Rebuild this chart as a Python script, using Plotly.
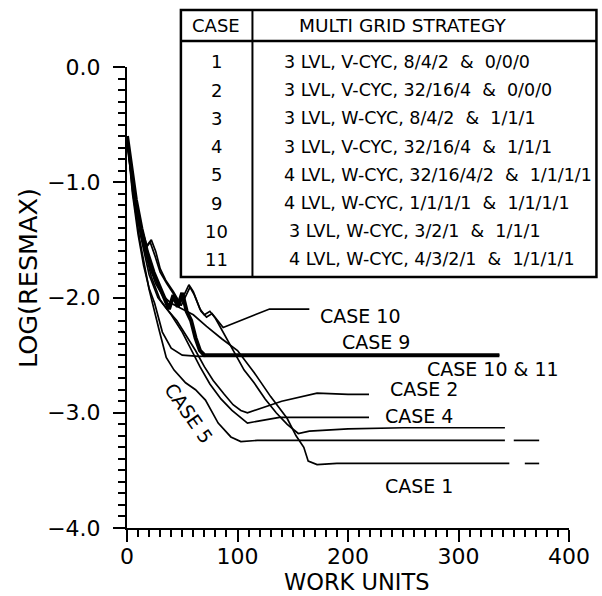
import plotly.graph_objects as go

# ---------------- data (work units vs log10 of max residual) ----------------
case1_x = [0, 4, 9, 14, 20, 26, 32, 40, 50, 60, 72, 86, 100, 115, 130, 145, 153, 157, 160, 164, 172, 190, 250, 300, 346]
case1_y = [-0.6, -0.95, -1.25, -1.5, -1.72, -1.88, -1.98, -2.05, -2.1, -2.15, -2.25, -2.36, -2.46, -2.65, -2.86, -3.05, -3.2, -3.26, -3.3, -3.42, -3.45, -3.44, -3.44, -3.44, -3.44]
case1_ext_x = [360, 373]
case1_ext_y = [-3.44, -3.44]

case2_x = [0, 6, 12, 20, 28, 36, 45, 55, 62, 70, 78, 88, 96, 103, 109, 140, 172, 200, 219]
case2_y = [-0.6, -1.1, -1.45, -1.8, -2.0, -2.1, -2.2, -2.35, -2.46, -2.6, -2.72, -2.84, -2.93, -2.98, -3.0, -2.9, -2.83, -2.84, -2.84]

case3_x = [0, 5, 10, 18, 22, 26, 30, 35, 42, 48, 53, 56, 60, 66, 70, 75, 80, 90, 97, 106, 115, 125, 135, 145, 155, 165, 200, 250, 342]
case3_y = [-0.6, -0.95, -1.3, -1.55, -1.5, -1.6, -1.75, -1.85, -1.95, -2.05, -1.95, -1.89, -1.95, -2.1, -2.15, -2.12, -2.18, -2.35, -2.48, -2.63, -2.74, -2.88, -3.0, -3.1, -3.18, -3.16, -3.14, -3.13, -3.13]

case4_x = [0, 7, 14, 22, 30, 40, 50, 58, 66, 75, 85, 95, 105, 109, 120, 138, 180, 219]
case4_y = [-0.6, -1.15, -1.5, -1.82, -2.02, -2.15, -2.3, -2.45, -2.6, -2.75, -2.88, -2.98, -3.06, -3.09, -3.07, -3.04, -3.04, -3.04]

case5_x = [0, 5, 11.5, 20, 29, 35.5, 42.6, 53, 62, 71, 82.5, 94, 103, 118, 200, 300, 342]
case5_y = [-0.6, -1.07, -1.5, -1.93, -2.28, -2.52, -2.63, -2.74, -2.8, -2.89, -3.09, -3.21, -3.25, -3.24, -3.24, -3.24, -3.24]
case5_ext_x = [350, 373]
case5_ext_y = [-3.24, -3.24]

case9_x = [0, 4, 8, 13, 18, 24, 30, 35, 38, 42, 46, 50, 54, 58, 62, 66, 70, 100, 200, 337]
case9_y = [-0.6, -0.9, -1.15, -1.4, -1.6, -1.78, -1.92, -2.02, -2.1, -1.98, -2.08, -1.96, -2.12, -2.2, -2.35, -2.46, -2.5, -2.5, -2.5, -2.5]

case10_x = [0, 5, 10, 17, 21, 25, 30, 36, 43, 49, 54, 57, 61, 67, 72, 77, 82, 87, 108, 129, 165]
case10_y = [-0.6, -0.97, -1.33, -1.57, -1.52, -1.63, -1.78, -1.88, -1.98, -2.07, -1.97, -1.91, -1.98, -2.12, -2.17, -2.14, -2.2, -2.26, -2.18, -2.1, -2.1]

case11_x = [0, 5, 10, 15, 20, 25, 32, 40, 50, 65, 100, 200, 337]
case11_y = [-0.6, -1.1, -1.45, -1.72, -1.92, -2.05, -2.3, -2.44, -2.5, -2.51, -2.5, -2.5, -2.5]

# table contents
table_cases = ["1", "2", "3", "4", "5", "9", "10", "11"]
table_strategies = [
    "3 LVL, V-CYC, 8/4/2  &  0/0/0",
    "3 LVL, V-CYC, 32/16/4  &  0/0/0",
    "3 LVL, W-CYC, 8/4/2  &  1/1/1",
    "3 LVL, V-CYC, 32/16/4  &  1/1/1",
    "4 LVL, W-CYC, 32/16/4/2  &  1/1/1/1",
    "4 LVL, W-CYC, 1/1/1/1  &  1/1/1/1",
    "3 LVL, W-CYC, 3/2/1  &  1/1/1",
    "4 LVL, W-CYC, 4/3/2/1  &  1/1/1/1",
]
table_indent = [0, 0, 0, 0, 0, 0, 5, 5]

# curve labels (text, x, y, angle) in data units
curve_labels = [
    ("CASE 10", 211, -2.16, 0),
    ("CASE 9", 225, -2.39, 0),
    ("CASE 10 & 11", 331, -2.62, 0),
    ("CASE 2", 269, -2.79, 0),
    ("CASE 4", 264, -3.03, 0),
    ("CASE 1", 264, -3.635, 0),
    ("CASE 5", 56, -3.0, 55),
]

# ---------------- figure ----------------
W, H = 602, 596
L, R, T, B = 127, 24, 67, 68
PW, PH = W - L - R, H - T - B
FONT = "DejaVu Sans"


def pxx(px):
    return (px - L) / PW


def pxy(py):
    return (H - B - py) / PH


series = [
    ("Case 1", case1_x, case1_y, 1.7),
    ("Case 1", case1_ext_x, case1_ext_y, 1.7),
    ("Case 2", case2_x, case2_y, 1.7),
    ("Case 3", case3_x, case3_y, 1.7),
    ("Case 4", case4_x, case4_y, 1.7),
    ("Case 5", case5_x, case5_y, 1.7),
    ("Case 5", case5_ext_x, case5_ext_y, 1.7),
    ("Case 9", case9_x, case9_y, 4),
    ("Case 10", case10_x, case10_y, 1.7),
    ("Case 11", case11_x, case11_y, 1.7),
]

fig = go.Figure()
for name, xs, ys, w in series:
    fig.add_trace(go.Scatter(x=xs, y=ys, mode="lines", name=name,
                             line=dict(color="black", width=w),
                             showlegend=False))

annotations = []
for text, x, y, ang in curve_labels:
    annotations.append(dict(x=x, y=y, xref="x", yref="y", text=text, showarrow=False,
                            textangle=ang, xanchor="center", yanchor="middle",
                            font=dict(family=FONT, size=19, color="black")))

# table text
annotations.append(dict(x=pxx(218), y=pxy(25), xref="paper", yref="paper", text="CASE",
                        showarrow=False, xanchor="center", yanchor="middle",
                        font=dict(family=FONT, size=18, color="black")))
annotations.append(dict(x=pxx(408), y=pxy(25), xref="paper", yref="paper",
                        text="MULTI GRID STRATEGY", showarrow=False,
                        xanchor="center", yanchor="middle",
                        font=dict(family=FONT, size=18.5, color="black")))
for i, (c, s, ind) in enumerate(zip(table_cases, table_strategies, table_indent)):
    yc = 62 + i * 28.2
    annotations.append(dict(x=pxx(218), y=pxy(yc), xref="paper", yref="paper", text=c,
                            showarrow=False, xanchor="center", yanchor="middle",
                            font=dict(family=FONT, size=18, color="black")))
    annotations.append(dict(x=pxx(285 + ind), y=pxy(yc), xref="paper", yref="paper", text=s,
                            showarrow=False, xanchor="left", yanchor="middle",
                            font=dict(family=FONT, size=17.5, color="black")))

# axis titles
annotations.append(dict(x=pxx(361), y=pxy(582), xref="paper", yref="paper",
                        text="WORK UNITS", showarrow=False, xanchor="center", yanchor="middle",
                        font=dict(family=FONT, size=22.5, color="black")))
annotations.append(dict(x=pxx(26), y=pxy(278), xref="paper", yref="paper",
                        text="LOG(RESMAX)", showarrow=False, textangle=-90,
                        xanchor="center", yanchor="middle",
                        font=dict(family=FONT, size=25.5, color="black")))

shapes = [
    dict(type="rect", xref="paper", yref="paper", x0=pxx(182), x1=pxx(606),
         y0=pxy(277), y1=pxy(10), fillcolor="white", line=dict(color="black", width=2.5),
         layer="above"),
    dict(type="line", xref="paper", yref="paper", x0=pxx(182), x1=pxx(606),
         y0=pxy(41), y1=pxy(41), line=dict(color="black", width=2.5), layer="above"),
    dict(type="line", xref="paper", yref="paper", x0=pxx(255), x1=pxx(255),
         y0=pxy(277), y1=pxy(10), line=dict(color="black", width=2), layer="above"),
]

axis_common = dict(showline=True, linecolor="black", linewidth=2, ticks="outside",
                   ticklen=12, tickwidth=2, tickcolor="black", showgrid=False,
                   zeroline=False, tickfont=dict(family=FONT, size=22, color="black"))

fig.update_layout(
    width=W, height=H, margin=dict(l=L, r=R, t=T, b=B),
    plot_bgcolor="white", paper_bgcolor="white",
    xaxis=dict(range=[0, 400], tick0=0, dtick=100, ticklabelstandoff=-4,
               minor=dict(dtick=10, ticks="outside", ticklen=7, tickwidth=1.5,
                          tickcolor="black", showgrid=False),
               **axis_common),
    yaxis=dict(range=[-4, 0], tick0=0, dtick=1, tickformat=".1f", ticklabelstandoff=8,
               minor=dict(dtick=0.1, ticks="outside", ticklen=7, tickwidth=1.5,
                          tickcolor="black", showgrid=False),
               **axis_common),
    annotations=annotations, shapes=shapes, showlegend=False,
)

fig.write_html("out.html")
